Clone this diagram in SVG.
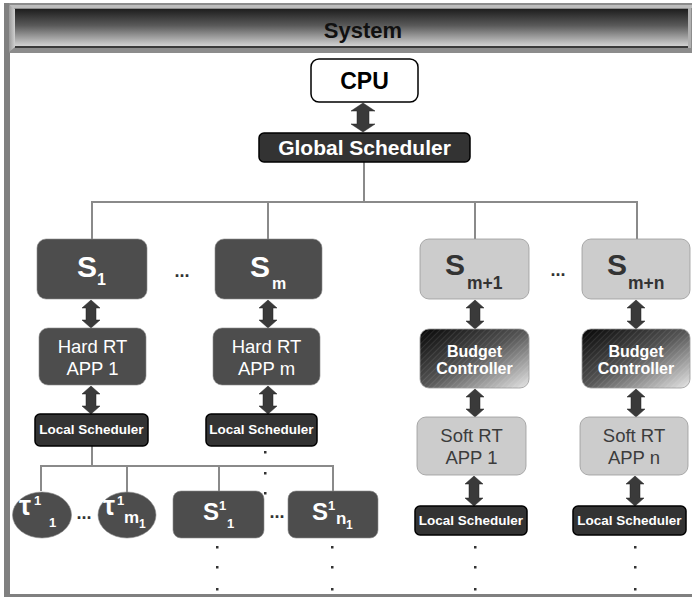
<svg xmlns="http://www.w3.org/2000/svg" width="692" height="597" viewBox="0 0 692 597">
<defs>
<linearGradient id="hdr" x1="0" y1="0" x2="0" y2="1">
<stop offset="0" stop-color="#1e1e1e"/>
<stop offset="0.45" stop-color="#5a5a5a"/>
<stop offset="1" stop-color="#d2d2d2"/>
</linearGradient>
<linearGradient id="bevel" x1="0" y1="0" x2="1" y2="0">
<stop offset="0" stop-color="#9a9a9a"/>
<stop offset="1" stop-color="#d0d0d0"/>
</linearGradient>
<linearGradient id="bud" x1="0" y1="0" x2="1" y2="1">
<stop offset="0" stop-color="#050505"/>
<stop offset="0.5" stop-color="#555"/>
<stop offset="1" stop-color="#e6e6e6"/>
</linearGradient>
<pattern id="hatch" width="4" height="4" patternUnits="userSpaceOnUse" patternTransform="rotate(45)">
<line x1="0" y1="0" x2="0" y2="4" stroke="#fff" stroke-width="1" stroke-opacity="0.18"/>
</pattern>
<style>
text{font-family:"Liberation Sans",Arial,sans-serif}
.dark{fill:#4d4d4d;stroke:#8a8a8a;stroke-width:0.6}
.light{fill:#cccccc;stroke:#999;stroke-width:0.8}
.sched{fill:#333;stroke:#000;stroke-width:1.5}
.conn{stroke:#8a8a8a;stroke-width:2;fill:none}
.arr{fill:#3a3a3a;stroke:#222;stroke-width:0.5}
.wb{fill:#fff;font-weight:bold}
.gb{fill:#333;font-weight:bold}
.wr{fill:#fff}
.gr{fill:#3c3c3c}
.dot{fill:#333}
.mid{text-anchor:middle}
</style>
</defs>

<!-- frame -->
<rect x="4" y="3" width="6" height="594" fill="#808080"/>
<rect x="4" y="594" width="688" height="3" fill="#808080"/>

<!-- header -->
<g id="header">
<rect x="9" y="3" width="683" height="50" fill="#8c8c8c"/>
<rect x="10" y="5" width="682" height="3" fill="#bdbdbd"/>
<polygon points="9,5 15,9 15,47 9,52" fill="url(#bevel)"/>
<rect x="15" y="9" width="673" height="37" fill="url(#hdr)"/>
<rect x="15" y="46" width="673" height="2" fill="#3a3a3a"/>
<rect x="688" y="8" width="3" height="40" fill="#b0b0b0"/>
<text x="363" y="38" class="mid" font-size="22" font-weight="bold" fill="#111">System</text>
</g>

<!-- connectors -->
<g id="connectors">
<polyline class="conn" points="364,162 364,202"/>
<polyline class="conn" points="92,239 92,202 637,202 637,239"/>
<polyline class="conn" points="268,202 268,239"/>
<polyline class="conn" points="475,202 475,239"/>
<polyline class="conn" points="92,446 92,466"/>
<polyline class="conn" points="41,491 41,466 333,466 333,491"/>
<polyline class="conn" points="127,466 127,492"/>
<polyline class="conn" points="219,466 219,491"/>
<polygon class="arr" points="363,103 375,111 369,111 369,124 375,124 363,132 351,124 357,124 357,111 351,111"/>
<polygon class="arr" points="91,300 100,308 96,308 96,320 100,320 91,328 82,320 86,320 86,308 82,308"/>
<polygon class="arr" points="268,300 277,308 273,308 273,320 277,320 268,328 259,320 263,320 263,308 259,308"/>
<polygon class="arr" points="91,386 100,394 96,394 96,406 100,406 91,414 82,406 86,406 86,394 82,394"/>
<polygon class="arr" points="268,386 277,394 273,394 273,406 277,406 268,414 259,406 263,406 263,394 259,394"/>
<polygon class="arr" points="475,300 484,308 480,308 480,321 484,321 475,329 466,321 470,321 470,308 466,308"/>
<polygon class="arr" points="636,300 645,308 641,308 641,321 645,321 636,329 627,321 631,321 631,308 627,308"/>
<polygon class="arr" points="475,389 484,397 480,397 480,409 484,409 475,417 466,409 470,409 470,397 466,397"/>
<polygon class="arr" points="636,389 645,397 641,397 641,409 645,409 636,417 627,409 631,409 631,397 627,397"/>
<polygon class="arr" points="474,476 483,484 479,484 479,498 483,498 474,506 465,498 469,498 469,484 465,484"/>
<polygon class="arr" points="635,476 644,484 640,484 640,498 644,498 635,506 626,498 630,498 630,484 626,484"/>
</g>

<g id="cpu">
<rect x="311" y="59" width="107" height="43" rx="8" fill="#fff" stroke="#000" stroke-width="1.5"/>
<text x="364.5" y="89" class="mid" font-size="23" font-weight="bold" fill="#000">CPU</text>
</g>
<g id="global-scheduler">
<rect x="259" y="133" width="211" height="29" rx="5" class="sched"/>
<text x="364.5" y="155" class="mid wb" font-size="21">Global Scheduler</text>
</g>

<g id="s1">
<rect x="37" y="239" width="110" height="60" rx="9" class="dark"/>
<text x="77" y="277" class="wb" font-size="30">S</text>
<text x="97" y="285" class="wb" font-size="16">1</text>
</g>
<text x="182" y="277" class="mid gb" font-size="18">...</text>
<g id="sm">
<rect x="215" y="239" width="107" height="60" rx="9" class="dark"/>
<text x="250" y="277" class="wb" font-size="30">S</text>
<text x="272" y="289" class="wb" font-size="16">m</text>
</g>
<g id="sm1">
<rect x="420" y="239" width="109" height="60" rx="9" class="light"/>
<text x="445" y="275" class="gb" font-size="30">S</text>
<text x="467" y="289" class="gb" font-size="17.5">m+1</text>
</g>
<text x="558" y="276" class="mid gb" font-size="18">...</text>
<g id="smn">
<rect x="582" y="239" width="108" height="60" rx="9" class="light"/>
<text x="607" y="275" class="gb" font-size="30">S</text>
<text x="628" y="289" class="gb" font-size="17.5">m+n</text>
</g>

<g id="hard1">
<rect x="39" y="328" width="107" height="57" rx="9" class="dark"/>
<text x="92.5" y="353" class="mid wr" font-size="18.5">Hard RT</text>
<text x="92.5" y="375" class="mid wr" font-size="18.5">APP 1</text>
</g>
<g id="hardm">
<rect x="213" y="328" width="107" height="57" rx="9" class="dark"/>
<text x="266.5" y="353" class="mid wr" font-size="18.5">Hard RT</text>
<text x="266.5" y="375" class="mid wr" font-size="18.5">APP m</text>
</g>

<g id="budget1">
<rect x="420" y="329" width="109" height="59" rx="9" fill="url(#bud)" stroke="#999" stroke-width="0.8"/>
<rect x="420" y="329" width="109" height="59" rx="9" fill="url(#hatch)"/>
<text x="474.5" y="357" class="mid wb" font-size="16">Budget</text>
<text x="474.5" y="374" class="mid wb" font-size="16">Controller</text>
</g>
<g id="budgetn">
<rect x="582" y="329" width="108" height="59" rx="9" fill="url(#bud)" stroke="#999" stroke-width="0.8"/>
<rect x="582" y="329" width="108" height="59" rx="9" fill="url(#hatch)"/>
<text x="636" y="357" class="mid wb" font-size="16">Budget</text>
<text x="636" y="374" class="mid wb" font-size="16">Controller</text>
</g>

<g id="ls1">
<rect x="35" y="414" width="113" height="32" rx="5" class="sched"/>
<text x="91.5" y="434" class="mid wb" font-size="13.5">Local Scheduler</text>
</g>
<g id="lsm">
<rect x="206" y="414" width="111" height="32" rx="5" class="sched"/>
<text x="261.5" y="434" class="mid wb" font-size="13.5">Local Scheduler</text>
</g>

<g id="soft1">
<rect x="417" y="417" width="109" height="58" rx="9" class="light"/>
<text x="471.5" y="442" class="mid gr" font-size="18.5">Soft RT</text>
<text x="471.5" y="464" class="mid gr" font-size="18.5">APP 1</text>
</g>
<g id="softn">
<rect x="580" y="417" width="108" height="58" rx="9" class="light"/>
<text x="634" y="442" class="mid gr" font-size="18.5">Soft RT</text>
<text x="634" y="464" class="mid gr" font-size="18.5">APP n</text>
</g>

<g id="ls-soft1">
<rect x="415" y="506" width="112" height="29" rx="5" class="sched"/>
<text x="471" y="525" class="mid wb" font-size="13.5">Local Scheduler</text>
</g>
<g id="ls-softn">
<rect x="573" y="506" width="113" height="29" rx="5" class="sched"/>
<text x="629.5" y="525" class="mid wb" font-size="13.5">Local Scheduler</text>
</g>

<g id="tau1">
<ellipse cx="42" cy="515" rx="29.5" ry="23" class="dark"/>
<text x="19" y="515" class="wb" font-size="27">τ</text>
<text x="34" y="505" class="wb" font-size="13">1</text>
<text x="49" y="527" class="wb" font-size="13">1</text>
</g>
<text x="84" y="519" class="mid gb" font-size="18">...</text>
<g id="taum1">
<ellipse cx="127" cy="515" rx="29" ry="23" class="dark"/>
<text x="103" y="515" class="wb" font-size="27">τ</text>
<text x="117" y="505" class="wb" font-size="13">1</text>
<text x="124" y="523" class="wb" font-size="17">m</text>
<text x="139" y="528" class="wb" font-size="12">1</text>
</g>

<g id="s11">
<rect x="173" y="491" width="91" height="47" rx="8" class="dark"/>
<text x="203" y="520" class="wb" font-size="24">S</text>
<text x="219" y="510" class="wb" font-size="13">1</text>
<text x="227" y="528" class="wb" font-size="13">1</text>
</g>
<text x="277" y="518" class="mid gb" font-size="18">...</text>
<g id="s1n1">
<rect x="288" y="491" width="90" height="47" rx="8" class="dark"/>
<text x="312" y="520" class="wb" font-size="24">S</text>
<text x="328" y="510" class="wb" font-size="13">1</text>
<text x="336" y="524" class="wb" font-size="17">n</text>
<text x="346" y="529" class="wb" font-size="12">1</text>
</g>

<!-- continuation dots -->
<g id="dots">
<rect class="dot" x="264" y="451" width="2.5" height="2.5"/>
<rect class="dot" x="264" y="472" width="2.5" height="2.5"/>
<rect class="dot" x="264" y="492" width="2.5" height="2.5"/>
<rect class="dot" x="216" y="546" width="2.5" height="2.5"/>
<rect class="dot" x="216" y="566" width="2.5" height="2.5"/>
<rect class="dot" x="216" y="588" width="2.5" height="2.5"/>
<rect class="dot" x="331" y="546" width="2.5" height="2.5"/>
<rect class="dot" x="331" y="566" width="2.5" height="2.5"/>
<rect class="dot" x="331" y="588" width="2.5" height="2.5"/>
<rect class="dot" x="474" y="546" width="2.5" height="2.5"/>
<rect class="dot" x="474" y="566" width="2.5" height="2.5"/>
<rect class="dot" x="474" y="588" width="2.5" height="2.5"/>
<rect class="dot" x="634" y="546" width="2.5" height="2.5"/>
<rect class="dot" x="634" y="566" width="2.5" height="2.5"/>
<rect class="dot" x="634" y="588" width="2.5" height="2.5"/>
</g>
</svg>
